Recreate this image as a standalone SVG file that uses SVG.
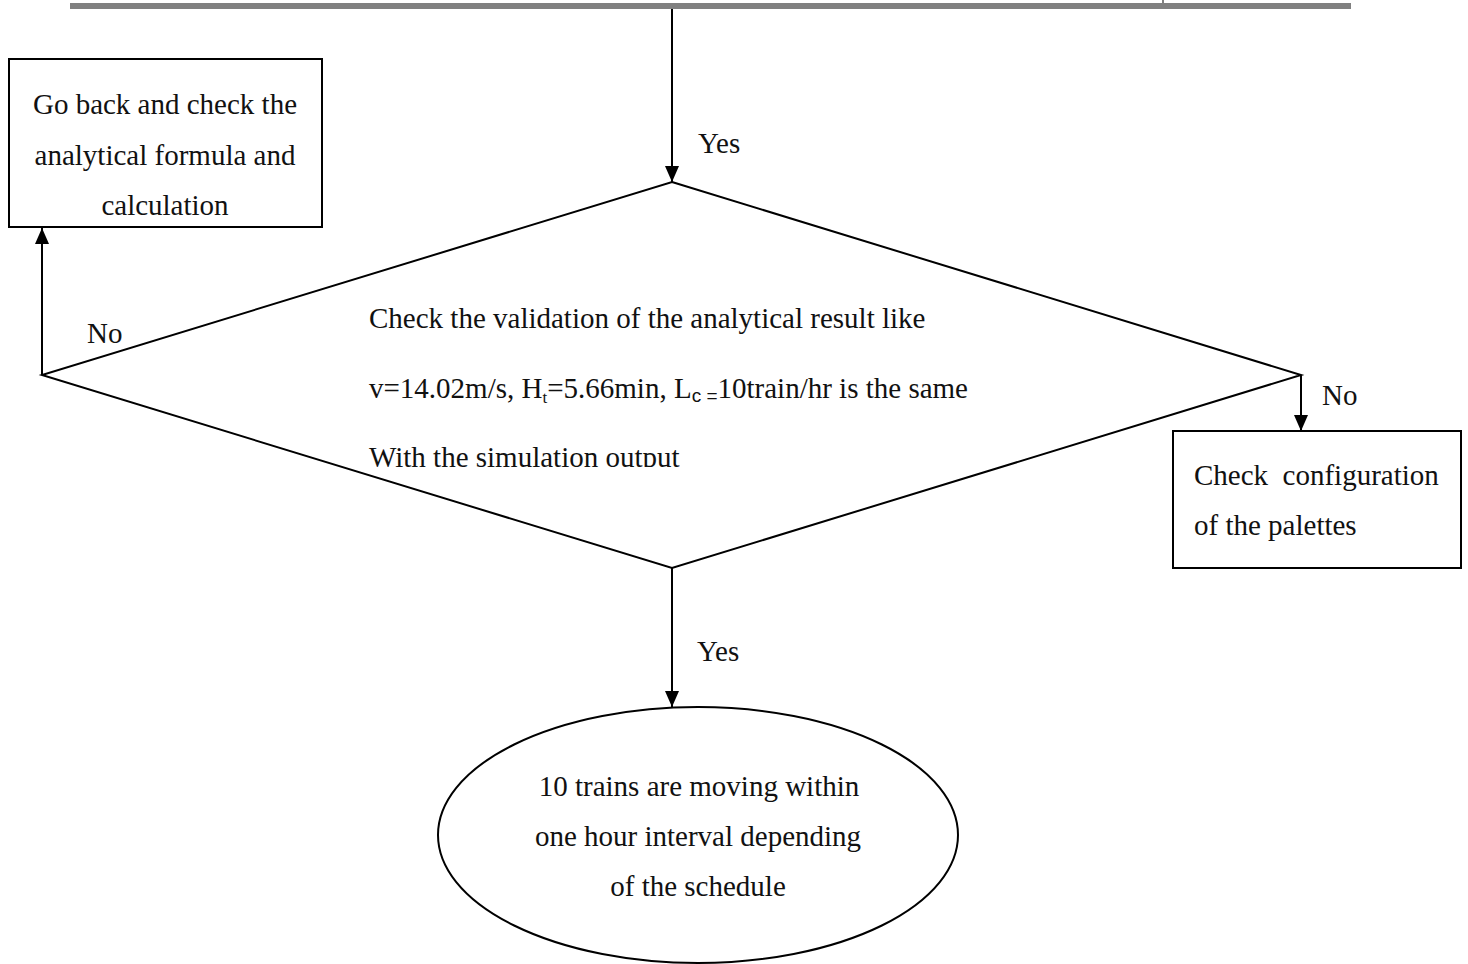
<svg xmlns="http://www.w3.org/2000/svg" width="1468" height="964" viewBox="0 0 1468 964">
  <style>
    .shape { fill: #ffffff; stroke: #000000; stroke-width: 2; }
    .line { fill: none; stroke: #000000; stroke-width: 2; }
    .txt { font-family: "Liberation Serif", "Times New Roman", serif; font-size: 29px; fill: #111111; }
    .mid { text-anchor: middle; }
  </style>
  <defs>
    <marker id="arrowhead" viewBox="0 0 16 14" refX="16" refY="7" markerWidth="16" markerHeight="14" markerUnits="userSpaceOnUse" orient="auto">
      <path d="M0,0 L16,7 L0,14 Z" fill="#000000"/>
    </marker>
    <clipPath id="diamondTextClip">
      <rect x="0" y="0" width="1468" height="467"/>
    </clipPath>
  </defs>

  <!-- page header rule -->
  <g id="header">
    <rect x="70" y="3" width="1281" height="6" fill="#808080"/>
    <rect x="1162" y="0" width="2" height="3" fill="#808080"/>
  </g>

  <!-- connectors -->
  <g id="connectors">
    <line class="line" x1="672" y1="9" x2="672" y2="182" marker-end="url(#arrowhead)"/>
    <line class="line" x1="42" y1="375" x2="42" y2="228" marker-end="url(#arrowhead)"/>
    <line class="line" x1="1301" y1="375" x2="1301" y2="431" marker-end="url(#arrowhead)"/>
    <line class="line" x1="672" y1="568" x2="672" y2="707" marker-end="url(#arrowhead)"/>
    <text class="txt" x="698" y="153">Yes</text>
    <text class="txt" x="87" y="343">No</text>
    <text class="txt" x="1322" y="405">No</text>
    <text class="txt" x="697" y="661">Yes</text>
  </g>

  <!-- decision -->
  <g id="decision">
    <polygon class="shape" points="672,182 1301,375 672,568 42,375"/>
    <g clip-path="url(#diamondTextClip)">
      <text class="txt" x="369" y="328">Check the validation of the analytical result like</text>
      <text class="txt" x="369" y="398">v=14.02m/s, H<tspan font-size="17" dy="5">t</tspan><tspan dy="-5">=5.66min, L</tspan><tspan font-family="Liberation Sans, Arial, sans-serif" font-size="19" dy="4">c =</tspan><tspan dy="-4">10train/hr is the same</tspan></text>
      <text class="txt" x="369" y="467">With the simulation output</text>
    </g>
  </g>

  <!-- recheck box -->
  <g id="recheck">
    <rect class="shape" x="9" y="59" width="313" height="168"/>
    <text class="txt mid" x="165" y="114">Go back and check the</text>
    <text class="txt mid" x="165" y="165">analytical formula and</text>
    <text class="txt mid" x="165" y="215">calculation</text>
  </g>

  <!-- configuration box -->
  <g id="configuration">
    <rect class="shape" x="1173" y="431" width="288" height="137"/>
    <text class="txt" x="1194" y="485">Check&#160; configuration</text>
    <text class="txt" x="1194" y="535">of the palettes</text>
  </g>

  <!-- terminal -->
  <g id="result">
    <ellipse class="shape" cx="698" cy="835" rx="260" ry="128"/>
    <text class="txt mid" x="699" y="796">10 trains are moving within</text>
    <text class="txt mid" x="698" y="846">one hour interval depending</text>
    <text class="txt mid" x="698" y="896">of the schedule</text>
  </g>
</svg>
